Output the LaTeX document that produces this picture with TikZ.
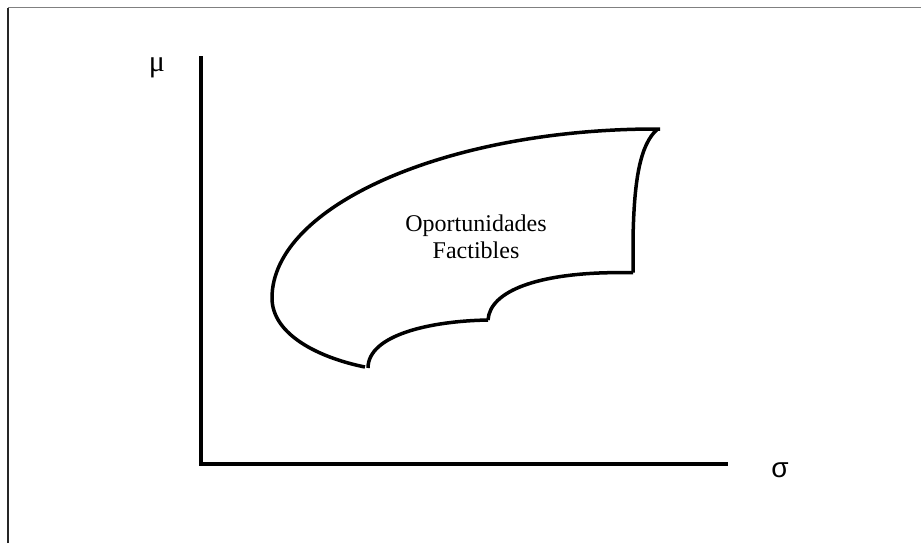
\documentclass[tikz,border=0pt]{standalone}
\usepackage{fontspec}
\setmainfont{Liberation Serif}
\newfontfamily\greeksans{Liberation Sans}
\begin{document}
\begin{tikzpicture}[x=0.5pt,y=-0.5pt,
  axis/.style={line width=2pt, line join=miter},
  region/.style={line width=1.75pt, line join=round},
  frameline/.style={line width=0.8pt},
  lbl/.style={inner sep=0pt, font=\fontsize{12}{13.3}\selectfont, align=center},
  greek/.style={inner sep=0pt, font=\fontsize{15}{17}\selectfont}]
\useasboundingbox (0,0) rectangle (921,543);
% frame
\coordinate (FBL) at (8,543);
\coordinate (FTL) at (8,7.5);
\coordinate (FTR) at (921,7.5);
\draw[frameline, black!85] (FBL) -- (FTL);
\draw[frameline, black!50] (FTL) -- (FTR);
% axes
\coordinate (Ytop) at (201,56);
\coordinate (O) at (201,464);
\coordinate (Xend) at (728,464);
\draw[axis] (Ytop) -- (O) -- (Xend);
\node[greek] (mu) at (157,68) {μ};
\node[greek, font=\greeksans\fontsize{14}{16}\selectfont] (sigma) at (780,470) {σ};
% feasible region: upper-left boundary
\draw[region] (660,129) .. controls (450,128) and (272,205) .. (272,298)
  .. controls (272,335) and (320,358) .. (365,367);
% lower boundary, first arc
\draw[region] (368,368) .. controls (368,335) and (430,321) .. (488,320);
% lower boundary, second arc
\draw[region] (488,320) .. controls (490,290) and (540,274) .. (609,272.7) -- (633,272.5);
% right boundary
\draw[region] (633,272.5) -- (633,240) .. controls (634,180) and (640,145) .. (657,129.5);
\node[lbl] (label) at (476,237) {Oportunidades\\Factibles};
\end{tikzpicture}
\end{document}
